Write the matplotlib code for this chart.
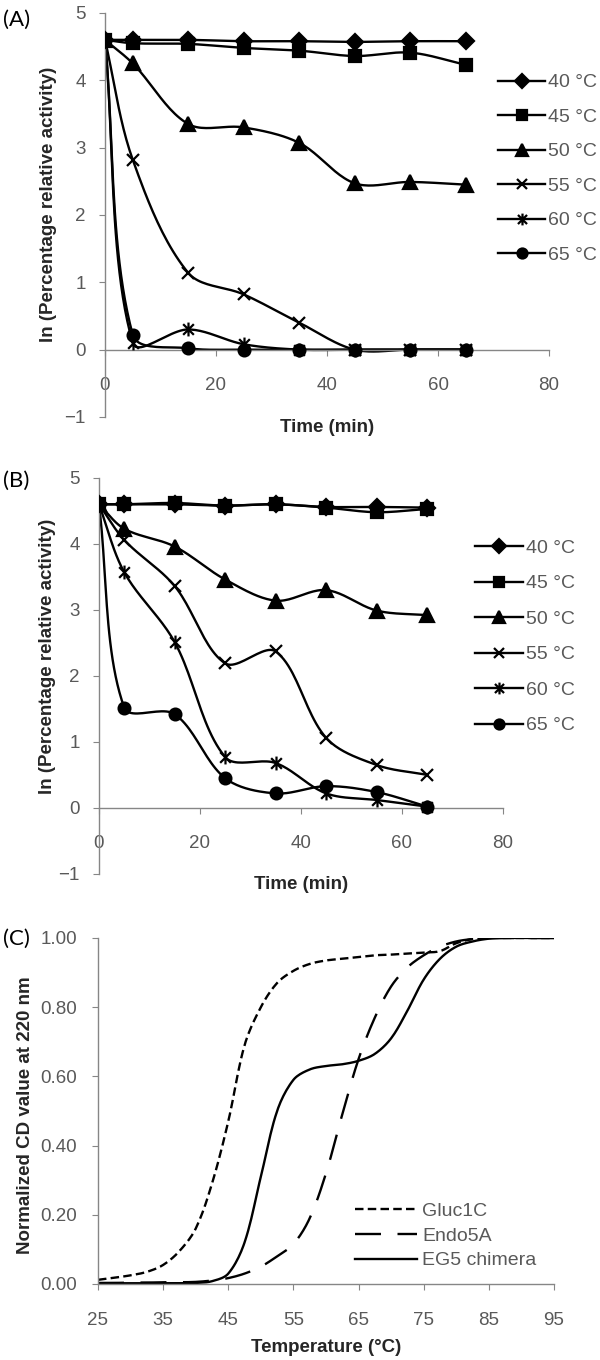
import numpy as np
import matplotlib.pyplot as plt
from matplotlib.path import Path

plt.rcParams['font.family'] = ['Liberation Sans', 'DejaVu Sans']

# ---- data ----
time_min = [0, 5, 15, 25, 35, 45, 55, 65]
temp_labels = ['40 °C', '45 °C', '50 °C', '55 °C', '60 °C', '65 °C']

# panel A: ln(percentage relative activity)
a_40 = [4.60, 4.60, 4.60, 4.58, 4.58, 4.57, 4.58, 4.58]
a_45 = [4.60, 4.55, 4.54, 4.48, 4.44, 4.36, 4.41, 4.23]
a_50 = [4.60, 4.25, 3.35, 3.30, 3.07, 2.47, 2.49, 2.45]
a_55 = [4.60, 2.82, 1.14, 0.82, 0.40, 0.00, 0.00, 0.00]
a_60 = [4.60, 0.10, 0.30, 0.08, 0.00, 0.00, 0.00, 0.00]
a_65 = [4.60, 0.22, 0.02, 0.00, 0.00, 0.00, 0.00, 0.00]

# panel B
b_40 = [4.60, 4.60, 4.60, 4.58, 4.60, 4.56, 4.56, 4.55]
b_45 = [4.60, 4.60, 4.62, 4.58, 4.60, 4.55, 4.48, 4.53]
b_50 = [4.60, 4.23, 3.96, 3.46, 3.14, 3.30, 2.99, 2.92]
b_55 = [4.60, 4.06, 3.36, 2.19, 2.37, 1.06, 0.65, 0.50]
b_60 = [4.60, 3.57, 2.51, 0.77, 0.68, 0.22, 0.12, 0.02]
b_65 = [4.60, 1.52, 1.42, 0.45, 0.22, 0.33, 0.24, 0.02]

# panel C: normalized CD value at 220 nm
temp_c = [25, 27.5, 30, 32.5, 35, 37.5, 40, 42.5, 45, 47.5, 50, 52.5, 55, 57.5,
          60, 62.5, 65, 67.5, 70, 72.5, 75, 77.5, 80, 82.5, 85, 87.5, 90, 92.5, 95]
gluc1c = [0.012, 0.018, 0.025, 0.035, 0.055, 0.095, 0.16, 0.29, 0.47, 0.69, 0.80,
          0.87, 0.905, 0.925, 0.935, 0.94, 0.945, 0.95, 0.952, 0.955, 0.958, 0.962,
          0.985, 0.997, 1.0, 1.0, 1.0, 1.0, 1.0]
endo5a = [0.003, 0.003, 0.004, 0.004, 0.005, 0.005, 0.006, 0.010, 0.017, 0.030,
          0.050, 0.080, 0.115, 0.19, 0.32, 0.49, 0.65, 0.77, 0.86, 0.915, 0.95,
          0.975, 0.99, 0.997, 1.0, 1.0, 1.0, 1.0, 1.0]
eg5 = [0.002, 0.002, 0.002, 0.002, 0.002, 0.002, 0.003, 0.008, 0.03, 0.12, 0.31,
       0.50, 0.59, 0.62, 0.63, 0.635, 0.645, 0.665, 0.71, 0.79, 0.88, 0.94, 0.975,
       0.99, 0.998, 1.0, 1.0, 1.0, 1.0]
cd_labels = ['Gluc1C', 'Endo5A', 'EG5 chimera']

# ---- styling ----
tick_col = '#595959'
spine_col = '#868686'
lab_col = '#262626'

star = Path([(-1, -1), (1, 1), (-1, 1), (1, -1), (0, -1.3), (0, 1.3)],
            [Path.MOVETO, Path.LINETO, Path.MOVETO, Path.LINETO, Path.MOVETO, Path.LINETO])
markers = ['D', 's', '^', 'x', star, 'o']
msizes = [8, 9, 9.5, 9, 10, 8.5]


def smooth(x, y, sx=1.0, sy=1.0, n=24):
    """Excel-like smoothed line: cubic bezier, handles weighted by segment length
    (computed in screen-like units sx, sy per data unit)"""
    p = np.column_stack([np.asarray(x, float) * sx, np.asarray(y, float) * sy])
    m = len(p)
    out = [p[0]]
    t = np.linspace(0, 1, n)[1:, None]
    ctrl_out, ctrl_in = [], []
    for i in range(m):
        prv = p[max(i - 1, 0)]
        nxt = p[min(i + 1, m - 1)]
        d = nxt - prv
        l1 = np.hypot(*(p[i] - prv))
        l2 = np.hypot(*(nxt - p[i]))
        tot = l1 + l2 if l1 + l2 > 0 else 1.0
        ctrl_out.append(p[i] + d * l2 / tot / 3.0)
        ctrl_in.append(p[i] - d * l1 / tot / 3.0)
    for i in range(m - 1):
        p0, p3 = p[i], p[i + 1]
        p1, p2 = ctrl_out[i], ctrl_in[i + 1]
        seg = ((1 - t) ** 3) * p0 + 3 * ((1 - t) ** 2) * t * p1 + 3 * (1 - t) * t ** 2 * p2 + t ** 3 * p3
        out.extend(seg)
    out = np.array(out)
    return out[:, 0] / sx, out[:, 1] / sy


def style_axis(ax):
    for s in ['top', 'right']:
        ax.spines[s].set_visible(False)
    for s in ['left', 'bottom']:
        ax.spines[s].set_color(spine_col)
        ax.spines[s].set_linewidth(1.0)
    ax.tick_params(direction='out', length=4, color=spine_col, labelcolor=tick_col,
                   labelsize=13.5)


def activity_panel(ax, series, sx, sy):
    for vals, lab, m, ms in zip(series, temp_labels, markers, msizes):
        lx, ly = smooth(time_min, vals, sx, sy)
        ax.plot(lx, ly, color='black', lw=1.7, zorder=2)
        ax.plot(time_min, vals, ls='none', marker=m, ms=ms, color='black',
                mec='black', mew=1.6, zorder=3)
        ax.plot([], [], color='black', lw=1.7, marker=m, ms=ms * 0.85, mew=1.6, label=lab)
    style_axis(ax)
    ax.spines['bottom'].set_position(('data', 0))
    ax.set_xlim(0, 80)
    ax.set_ylim(-1, 5)
    ax.set_xticks(np.arange(0, 81, 20))
    ax.set_yticks(np.arange(-1, 6, 1))
    ax.tick_params(axis='x', pad=15.5)
    ax.tick_params(axis='y', pad=10)
    ax.set_xlabel('Time (min)', fontsize=13.5, fontweight='bold', color=lab_col)
    ax.xaxis.set_label_coords(0.5, -0.005)
    ax.set_ylabel('ln (Percentage relative activity)', fontsize=13.5,
                  fontweight='bold', color=lab_col)


fig = plt.figure(figsize=(6, 13.6), dpi=100)

# (A)
axA = fig.add_axes([0.175, 0.6934, 0.74, 0.2971])
activity_panel(axA, [a_40, a_45, a_50, a_55, a_60, a_65], 5.55, 67.3)
axA.yaxis.set_label_coords(-0.108, 0.525)
axA.legend(loc='upper left', bbox_to_anchor=(0.83, 0.9458), bbox_transform=fig.transFigure,
           frameon=False, fontsize=14, labelcolor=tick_col, handlelength=2.42,
           handletextpad=0.15, labelspacing=0.87, borderpad=0, borderaxespad=0)

# (B)
axB = fig.add_axes([0.165, 0.3574, 0.6733, 0.2912])
activity_panel(axB, [b_40, b_45, b_50, b_55, b_60, b_65], 5.05, 66.0)
axB.yaxis.set_label_coords(-0.106, 0.55)
axB.legend(loc='upper left', bbox_to_anchor=(0.792, 0.6035), bbox_transform=fig.transFigure,
           frameon=False, fontsize=14, labelcolor=tick_col, handlelength=2.47,
           handletextpad=0.15, labelspacing=0.92, borderpad=0, borderaxespad=0)

# (C)
axC = fig.add_axes([0.1633, 0.0559, 0.76, 0.2544])
dashes = [(3.6, 1.8), (11, 7), None]
for vals, lab, d in zip([gluc1c, endo5a, eg5], cd_labels, dashes):
    lx, ly = smooth(temp_c, vals, 6.51, 346.0, n=12)
    if d is None:
        axC.plot(lx, ly, color='black', lw=1.7, label=lab)
    else:
        axC.plot(lx, ly, color='black', lw=1.7, dashes=d, label=lab)
style_axis(axC)
axC.set_xlim(25, 95)
axC.set_ylim(0, 1)
axC.set_xticks(np.arange(25, 96, 10))
axC.set_yticks(np.arange(0, 1.01, 0.2))
axC.set_yticklabels(['%.2f' % v for v in np.arange(0, 1.01, 0.2)])
axC.tick_params(axis='x', pad=16)
axC.tick_params(axis='y', pad=11)
axC.set_xlabel('Temperature (°C)', fontsize=13.5, fontweight='bold', color=lab_col)
axC.xaxis.set_label_coords(0.5, -0.16)
axC.set_ylabel('Normalized CD value at 220 nm', fontsize=13.5, fontweight='bold',
               color=lab_col)
axC.yaxis.set_label_coords(-0.140, 0.488)
axC.legend(loc='upper left', bbox_to_anchor=(0.592, 0.1157), bbox_transform=fig.transFigure,
           frameon=False, fontsize=14, labelcolor=tick_col, handlelength=3.2,
           handletextpad=0.25, labelspacing=0.36, borderpad=0, borderaxespad=0)

# panel letters
for lab, ypx in [('(A)', 20), ('(B)', 481), ('(C)', 939)]:
    fig.text(3 / 600, 1 - ypx / 1360, lab, fontsize=16, family=['Lato', 'DejaVu Sans'],
             va='center', ha='left', color='black')

fig.savefig('out.png', dpi=100)
